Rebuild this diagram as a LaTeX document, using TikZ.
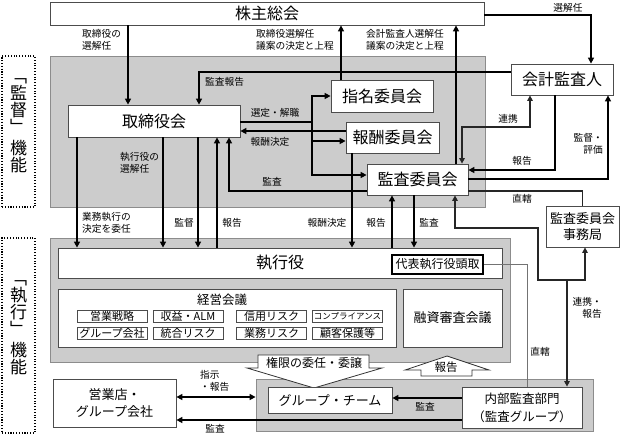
\documentclass[tikz,border=0pt]{standalone}
\usepackage{fontspec}
\setmainfont{Noto Sans CJK JP}
\usetikzlibrary{arrows.meta,positioning}

\tikzset{
  box/.style={draw=black!70, fill=white, line width=0.8pt, inner sep=0pt, align=center},
  area/.style={draw=black!45, fill=black!20, line width=0.8pt, inner sep=0pt},
  side/.style={draw=black, line width=1.1pt, dash pattern=on 1.1pt off 1.7pt, inner sep=0pt},
  callout/.style={draw=black!80, fill=white, line width=0.8pt},
  big/.style={font=\fontsize{16}{18}\selectfont},
  midtext/.style={font=\fontsize{13}{16}\selectfont},
  smalltext/.style={font=\fontsize{12}{18}\selectfont},
  sbox/.style={draw=black!70, fill=white, line width=0.7pt, inner sep=0pt,
    minimum width=70pt, minimum height=11.5pt, font=\fontsize{11}{11}\selectfont},
  vert/.style={font=\fontsize{17}{17}\selectfont, align=center, inner sep=0pt},
  lbl/.style={font=\fontsize{9.7}{12}\selectfont, inner sep=0pt, align=left},
  conn/.style={line width=1.8pt, -{Triangle[length=6pt,width=6pt]}},
  link/.style={line width=1.3pt, draw=black!85, -{Triangle[length=5.5pt,width=5.5pt]}},
  grayline/.style={line width=0.9pt, draw=black!55}
}

\begin{document}
\begin{tikzpicture}[x=1pt, y=-1pt]
\useasboundingbox (0,0) rectangle (624,434);

\node[area, minimum width=435pt, minimum height=151pt] (r_kan) at (267.5,131.5) {};
\node[area, minimum width=460pt, minimum height=124pt] (r_shi) at (280,300) {};
\node[area, minimum width=337pt, minimum height=52pt] (r_team) at (424.5,405) {};

\node[side, minimum width=33pt, minimum height=151pt] (f_kan) at (18.5,131.5) {};
\node[side, minimum width=33pt, minimum height=195pt] (f_shi) at (18.5,335.5) {};
\node[vert] (t_kan) at (18.5,126) {﹁\\監\\督\\﹂\\[4pt]機\\能};
\node[vert] (t_shi) at (18.5,328) {﹁\\執\\行\\﹂\\[4pt]機\\能};

\draw[callout] (258,355) -- (369,355) -- (369,368) -- (382,368) -- (314,388)
  -- (247,368) -- (258,368) -- cycle;
\node[font=\fontsize{12}{12}\selectfont, inner sep=0pt] (kengen) at (314,363) {権限の委任・委譲};
\draw[callout] (447,356) -- (489,370) -- (472,370) -- (472,376) -- (421,376)
  -- (421,370) -- (405,370) -- cycle;
\node[font=\fontsize{11.5}{12}\selectfont, inner sep=0pt] (hokoku) at (446,367) {報告};

\node[box, big, minimum width=434pt, minimum height=23pt] (kabu) at (267,13.5) {株主総会};
\node[box, big, minimum width=172pt, minimum height=32pt] (tori) at (154,121) {取締役会};
\node[box, big, minimum width=102pt, minimum height=32pt] (shimei) at (382,96) {指名委員会};
\node[box, big, minimum width=93pt, minimum height=31pt] (hoshu) at (392.5,137.5) {報酬委員会};
\node[box, big, minimum width=101pt, minimum height=31pt] (kansa) at (417.5,179.5) {監査委員会};
\node[box, big, minimum width=102pt, minimum height=31pt] (kaikei) at (562,79.5) {会計監査人};
\node[box, midtext, minimum width=73pt, minimum height=41pt] (jimu) at (582.5,226.5) {監査委員会\\事務局};
\node[box, big, minimum width=444pt, minimum height=30pt] (shikko) at (280,263) {執行役};
\node[box, smalltext, line width=1.8pt, draw=black, minimum width=91pt, minimum height=19pt] (daihyo) at (437.5,264.5) {代表執行役頭取};
\node[box, minimum width=338pt, minimum height=58pt] (keiei) at (227,318) {};
\node[font=\fontsize{12.5}{13}\selectfont, inner sep=0pt] (keiei_t) at (222,300) {経営会議};
\node[box, midtext, minimum width=99pt, minimum height=58pt] (yushi) at (452.5,318) {融資審査会議};

\node[sbox] (s_1) at (112,316.5) {営業戦略};
\node[sbox] (s_2) at (188,316.5) {収益・ALM};
\node[sbox] (s_3) at (271.5,316.5) {信用リスク};
\node[sbox, font=\fontsize{8.5}{9}\selectfont] (s_4) at (347.5,316.5) {コンプライアンス};
\node[sbox] (s_5) [below=4.5pt of s_1] {グループ会社};
\node[sbox] (s_6) [below=4.5pt of s_2] {統合リスク};
\node[sbox] (s_7) [below=4.5pt of s_3] {業務リスク};
\node[sbox] (s_8) [below=4.5pt of s_4, font=\fontsize{11}{11}\selectfont] {顧客保護等};

\node[box, midtext, minimum width=123pt, minimum height=48pt, font=\fontsize{13}{17}\selectfont] (eigyo) at (114.5,403) {営業店・\\グループ会社};
\node[box, midtext, minimum width=124pt, minimum height=26pt] (gteam) at (330,400) {グループ・チーム};
\node[box, minimum width=120pt, minimum height=41pt, font=\fontsize{12.5}{18}\selectfont] (naibu) at (522,407.5) {内部監査部門\\（監査グループ）};

\draw[conn] (kabu.south -| 128,0) -- (tori.north -| 128,0);
\draw[conn] (shimei.north -| 341,0) -- (kabu.south -| 341,0);
\draw[conn] (kansa.north -| 456,0) -- (kabu.south -| 456,0);
\draw[conn] (kabu.east |- 0,15) -| (kaikei.north -| 591,0);
\draw[conn] (kaikei.west |- 0,72) -| (tori.north -| 199,0);
\draw[conn] (tori.east |- 0,122) -| (312,96) -- (shimei.west);
\draw[conn] (312,120) |- (hoshu.west |- 0,141);
\draw[conn] (312,120) |- (kansa.west |- 0,175);
\draw[conn] (hoshu.west |- 0,131) -- (tori.east |- 0,131);
\draw[conn] (kansa.west |- 0,191) -| (tori.south -| 229,0);

\draw[conn] (tori.south -| 77,0) -- (shikko.north -| 77,0);
\draw[conn] (tori.south -| 163,0) -- (shikko.north -| 163,0);
\draw[conn] (tori.south -| 198,0) -- (shikko.north -| 198,0);
\draw[conn] (shikko.north -| 217,0) -- (tori.south -| 217,0);
\draw[conn] (hoshu.south -| 352,0) -- (shikko.north -| 352,0);
\draw[conn] (shikko.north -| 392,0) -- (kansa.south -| 392,0);
\draw[conn] (kansa.south -| 414,0) -- (shikko.north -| 414,0);

\draw[conn] (kansa.east |- 0,179) -| (kaikei.south -| 608,0);
\draw[conn] (kaikei.south -| 555,0) |- (kansa.east |- 0,170);
\draw[link, {Triangle[length=5.5pt,width=5.5pt]}-{Triangle[length=5.5pt,width=5.5pt]}]
  (kansa.north -| 462,0) |- (530,127) -- (kaikei.south -| 530,0);
\draw[link, -] (kansa.east |- 0,191) -| (jimu.north);

\coordinate (hub) at (567,280);
\draw[link] (hub) -- (538,280) -- (538,228) -| (kansa.south -| 455,0);
\draw[link] (hub) -| (jimu.south -| 585,0);
\draw[link] (hub) -- (naibu.north -| 567,0);
\draw[grayline] (daihyo.east) -| (naibu.north -| 527,0);

\draw[conn, {Triangle[length=6pt,width=6pt]}-{Triangle[length=6pt,width=6pt]}]
  (eigyo.east |- 0,397) -- (r_team.west |- 0,397);
\draw[conn] (naibu.west |- 0,398) -- (gteam.east |- 0,398);
\draw[conn] (naibu.west |- 0,420) -- (eigyo.east |- 0,420);

\node[lbl, anchor=west] (l_1) at (82,40) {取締役の\\選解任};
\node[lbl, anchor=west] (l_2) at (256,40) {取締役選解任\\議案の決定と上程};
\node[lbl, anchor=west] (l_3) at (366,40) {会計監査人選解任\\議案の決定と上程};
\node[lbl] (l_4) at (568,8) {選解任};
\node[lbl, anchor=west] (l_5) at (205,82) {監査報告};
\node[lbl] (l_6) at (275,113) {選定・解職};
\node[lbl] (l_7) at (270,142) {報酬決定};
\node[lbl] (l_8) at (272,182) {監査};
\node[lbl, anchor=west] (l_9) at (120,163) {執行役の\\選解任};
\node[lbl, anchor=west] (l_10) at (82,223) {業務執行の\\決定を委任};
\node[lbl] (l_11) at (184,223) {監督};
\node[lbl] (l_12) at (232,223) {報告};
\node[lbl] (l_13) at (327,223) {報酬決定};
\node[lbl] (l_14) at (376,223) {報告};
\node[lbl] (l_15) at (429,223) {監査};
\node[lbl] (l_16) at (522,199) {直轄};
\node[lbl] (l_17) at (508,119) {連携};
\node[lbl] (l_18) at (522,161) {報告};
\node[lbl, anchor=east, align=right] (l_19) at (603,144) {監督・\\評価};
\node[lbl, anchor=east, align=right] (l_20) at (602,308) {連携・\\報告};
\node[lbl] (l_21) at (540,352) {直轄};
\node[lbl, anchor=west] (l_22) at (200,381) {指示\\・報告};
\node[lbl] (l_23) at (425,407) {監査};
\node[lbl] (l_24) at (215,429) {監査};
\end{tikzpicture}
\end{document}
